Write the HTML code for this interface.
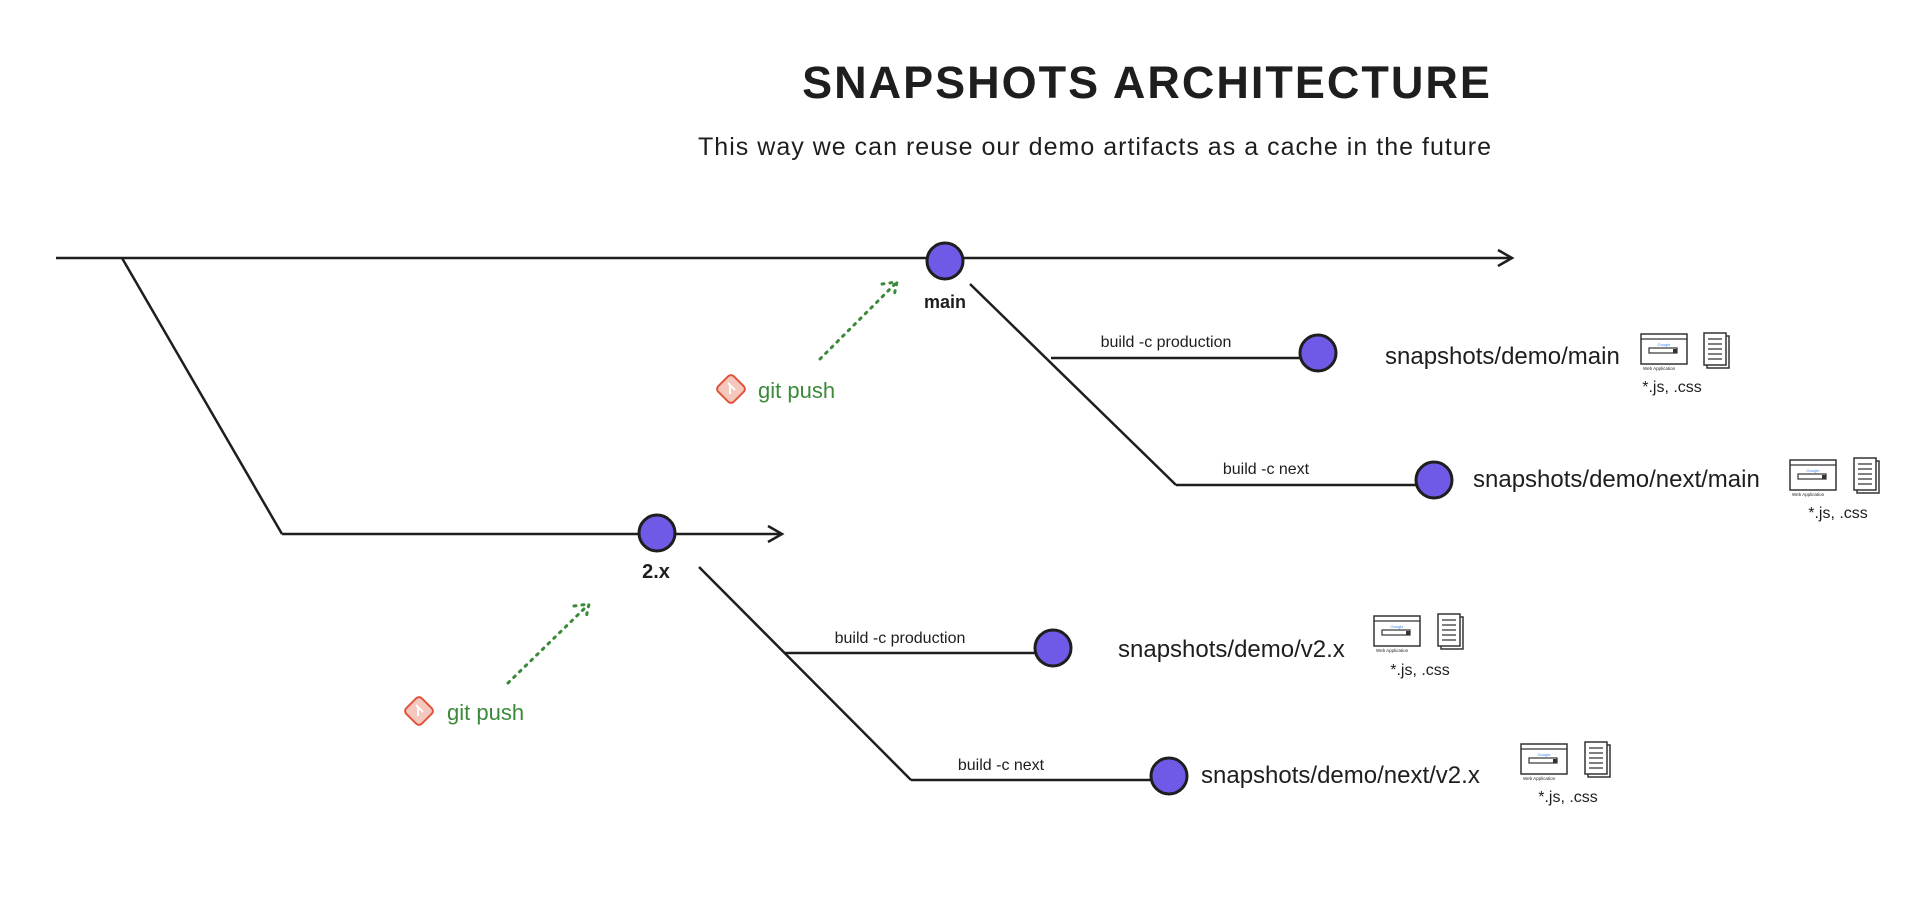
<!DOCTYPE html>
<html><head><meta charset="utf-8"><style>
html,body{margin:0;padding:0;background:#fff;width:1920px;height:908px;overflow:hidden}
svg{display:block}
text{font-family:"Liberation Sans",sans-serif;fill:#1e1e1e}
</style></head><body>
<svg width="1920" height="908" viewBox="0 0 1920 908" xmlns="http://www.w3.org/2000/svg">
<defs>
<g id="web">
 <rect x="0" y="0" width="46" height="30" fill="#fff" stroke="#333" stroke-width="1.5"/>
 <line x1="0" y1="5" x2="46" y2="5" stroke="#333" stroke-width="1.2"/>
 <rect x="8" y="14" width="28" height="5" fill="none" stroke="#333" stroke-width="1.2"/>
 <rect x="32" y="15" width="4" height="4" fill="#333"/>
 <text x="23" y="12" font-size="4" text-anchor="middle" style="fill:#4285f4">Google</text>
 <text x="2" y="36" font-size="4.5">Web Application</text>
</g>
<g id="doc">
 <rect x="3" y="3" width="22" height="32" fill="#fff" stroke="#333" stroke-width="1.5"/>
 <rect x="0" y="0" width="22" height="32" fill="#fff" stroke="#333" stroke-width="1.5"/>
 <path d="M4 6h14M4 11h14M4 16h14M4 21h14M4 26h14" stroke="#333" stroke-width="1.2"/>
</g>
<g id="git">
 <rect x="-11" y="-11" width="22" height="22" rx="4" transform="rotate(45)" fill="#f6c7bd" stroke="#e0533a" stroke-width="2"/>
 <path d="M-3 -6 L4 1 M-1 -3 L-1 5" stroke="#fff" stroke-width="2"/>
</g>
</defs>

<text x="1147" y="98" font-size="45" font-weight="bold" text-anchor="middle" letter-spacing="2">SNAPSHOTS ARCHITECTURE</text>
<text x="698" y="155" font-size="25" textLength="793" lengthAdjust="spacing">This way we can reuse our demo artifacts as a cache in the future</text>

<g stroke="#1e1e1e" stroke-width="2.5" fill="none">
 <line x1="56" y1="258" x2="1512" y2="258"/>
 <path d="M1498 250 L1512 258 L1498 266"/>
 <line x1="122" y1="258" x2="282" y2="534"/>
 <line x1="282" y1="534" x2="782" y2="534"/>
 <path d="M768 526 L782 534 L768 542"/>
 <line x1="970" y1="284" x2="1176" y2="485"/>
 <line x1="1176" y1="485" x2="1418" y2="485"/>
 <line x1="1051" y1="358" x2="1300" y2="358"/>
 <line x1="699" y1="567" x2="911" y2="780"/>
 <line x1="785" y1="653" x2="1036" y2="653"/>
 <line x1="911" y1="780" x2="1152" y2="780"/>
</g>

<g fill="#6e5ae6" stroke="#1e1e1e" stroke-width="3">
 <circle cx="945" cy="261" r="18"/>
 <circle cx="1318" cy="353" r="18"/>
 <circle cx="1434" cy="480" r="18"/>
 <circle cx="657" cy="533" r="18"/>
 <circle cx="1053" cy="648" r="18"/>
 <circle cx="1169" cy="776" r="18"/>
</g>

<text x="945" y="308" font-size="18" text-anchor="middle" font-weight="bold">main</text>
<text x="656" y="578" font-size="20" text-anchor="middle" font-weight="bold">2.x</text>

<text x="1166" y="347" font-size="16" text-anchor="middle">build -c production</text>
<text x="1266" y="474" font-size="16" text-anchor="middle">build -c next</text>
<text x="900" y="643" font-size="16" text-anchor="middle">build -c production</text>
<text x="1001" y="770" font-size="16" text-anchor="middle">build -c next</text>

<text x="1385" y="364" font-size="24">snapshots/demo/main</text>
<text x="1473" y="487" font-size="24">snapshots/demo/next/main</text>
<text x="1118" y="657" font-size="24">snapshots/demo/v2.x</text>
<text x="1201" y="783" font-size="24">snapshots/demo/next/v2.x</text>

<use href="#web" x="1641" y="334"/><use href="#doc" x="1704" y="333"/>
<text x="1672" y="392" font-size="16" text-anchor="middle">*.js, .css</text>
<use href="#web" x="1790" y="460"/><use href="#doc" x="1854" y="458"/>
<text x="1838" y="518" font-size="16" text-anchor="middle">*.js, .css</text>
<use href="#web" x="1374" y="616"/><use href="#doc" x="1438" y="614"/>
<text x="1420" y="675" font-size="16" text-anchor="middle">*.js, .css</text>
<use href="#web" x="1521" y="744"/><use href="#doc" x="1585" y="742"/>
<text x="1568" y="802" font-size="16" text-anchor="middle">*.js, .css</text>

<g stroke="#3a8a3a" stroke-width="3" stroke-dasharray="2 6" stroke-linecap="round" fill="none">
 <line x1="820" y1="359" x2="896" y2="283"/>
 <path d="M882 284 L897 282 L894 296"/>
 <line x1="508" y1="683" x2="588" y2="605"/>
 <path d="M574 606 L589 604 L586 618"/>
</g>
<use href="#git" x="731" y="389"/>
<text x="758" y="398" font-size="22" style="fill:#3a8a3a">git push</text>
<use href="#git" x="419" y="711"/>
<text x="447" y="720" font-size="22" style="fill:#3a8a3a">git push</text>
</svg>
</body></html>
